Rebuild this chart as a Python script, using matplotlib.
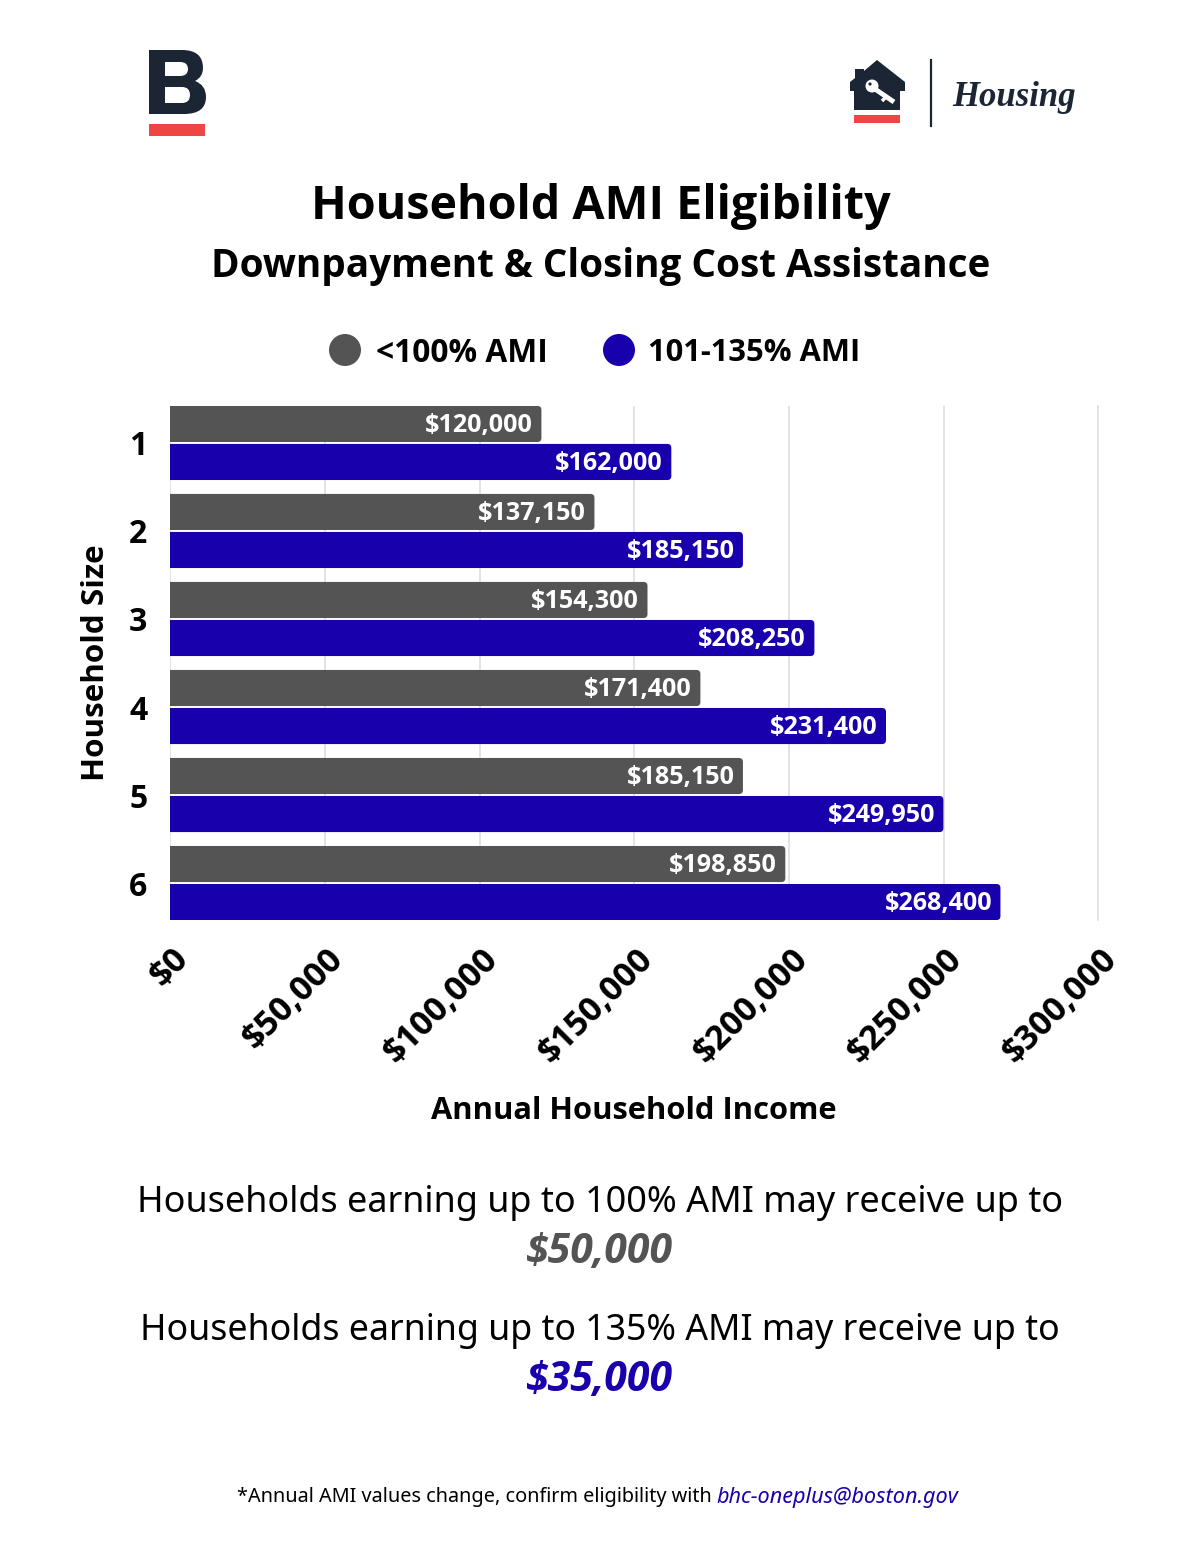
import matplotlib
matplotlib.use('Agg')
import matplotlib.pyplot as plt
from matplotlib.patches import FancyBboxPatch, Circle, Rectangle, PathPatch
from matplotlib.path import Path
from matplotlib.transforms import ScaledTranslation

plt.rcParams['font.family'] = ['Noto Sans', 'DejaVu Sans']
BOLD = ['Open Sans', 'DejaVu Sans']

sizes = ['1', '2', '3', '4', '5', '6']
ami_100 = [120000, 137150, 154300, 171400, 185150, 198850]
ami_135 = [162000, 185150, 208250, 231400, 249950, 268400]
x_ticks = [0, 50000, 100000, 150000, 200000, 250000, 300000]

GREY = '#545454'
BLUE = '#1800ad'
NAVY = '#1b2533'
RED = '#ed4643'

W, H = 1200, 1553
fig = plt.figure(figsize=(12, 15.53), dpi=100, facecolor='white')

# plot area, pixel box 170-1098 / 406-920
ax = fig.add_axes([170.2 / W, 1 - 920 / H, 928 / W, 514 / H])
ax.set_xlim(0, 300000)
ax.set_ylim(5.42, -0.42)
for s in ax.spines.values():
    s.set_visible(False)
ax.grid(axis='x', color='#dedede', lw=1.2, zorder=0)
ax.set_axisbelow(True)
ax.axvline(300000, color='#e4e4e4', lw=1.2, clip_on=False, zorder=0)


def draw_bar(value, y, color):
    # starts left of zero so only the right end shows rounded corners
    bar = FancyBboxPatch((-5000, y - 0.205), value + 5000, 0.41,
                         boxstyle='round,pad=0,rounding_size=1300',
                         mutation_aspect=(4 / 88) / 1300,
                         fc=color, ec='none', zorder=3)
    ax.add_patch(bar)
    ax.text(value - 2700, y + 0.015, '${:,}'.format(value), color='white', fontsize=18.1,
            family=BOLD, fontweight='bold', ha='right', va='center', zorder=4)


for i in range(len(sizes)):
    draw_bar(ami_100[i], i - 0.216, GREY)
    draw_bar(ami_135[i], i + 0.216, BLUE)

ax.set_yticks(range(len(sizes)))
ax.set_yticklabels(sizes, fontsize=23, family=BOLD, fontweight='bold', color='black')
ax.tick_params(axis='y', length=0, pad=16.5)
ax.set_xticks(x_ticks)
ax.set_xticklabels(['${:,}'.format(v) for v in x_ticks], fontsize=24.6, family=BOLD, fontweight='bold',
                   rotation=45, ha='right', va='center', rotation_mode='anchor', color='black')
ax.tick_params(axis='x', length=0)
offset = ScaledTranslation(13.5 / 100, -29 / 100, fig.dpi_scale_trans)
for lab in ax.get_xticklabels():
    lab.set_transform(lab.get_transform() + offset)

# everything else is placed in pixel coordinates of the page
ov = fig.add_axes([0, 0, 1, 1], zorder=5)
ov.set_xlim(0, W)
ov.set_ylim(H, 0)
ov.axis('off')
ov.patch.set_alpha(0)

ov.text(601, 206, 'Household AMI Eligibility', fontsize=33.6, family=BOLD, fontweight='bold', ha='center', va='center')
ov.text(601, 267, 'Downpayment & Closing Cost Assistance', fontsize=27.8, family=BOLD, fontweight='bold', ha='center', va='center')

ov.add_patch(Circle((345, 350), 16, fc=GREY, ec='none'))
ov.add_patch(Circle((619, 350), 16, fc=BLUE, ec='none'))
ov.text(376, 353, '<100% AMI', fontsize=22.9, family=BOLD, fontweight='bold', ha='left', va='center')
ov.text(648, 353, '101-135% AMI', fontsize=22.2, family=BOLD, fontweight='bold', ha='left', va='center')

ov.text(96, 663, 'Household Size', fontsize=22.6, family=BOLD, fontweight='bold', rotation=90, ha='center', va='center')
ov.text(634, 1111, 'Annual Household Income', fontsize=22.2, family=BOLD, fontweight='bold', ha='center', va='center')

ov.text(600, 1203, 'Households earning up to 100% AMI may receive up to', fontsize=25.9, ha='center', va='center')
ov.text(600, 1252, '$50,000', fontsize=29.5, family=BOLD, fontweight='bold', fontstyle='italic', color=GREY, ha='center', va='center')
ov.text(600, 1331, 'Households earning up to 135% AMI may receive up to', fontsize=25.7, ha='center', va='center')
ov.text(600, 1380, '$35,000', fontsize=29.5, family=BOLD, fontweight='bold', fontstyle='italic', color=BLUE, ha='center', va='center')

ov.text(237, 1497, '*Annual AMI values change, confirm eligibility with', fontsize=14.3, ha='left', va='center')
ov.text(716, 1497, 'bhc-oneplus@boston.gov', fontsize=15.6, fontstyle='italic', color=BLUE, ha='left', va='center')

# B logo
M, L, C, Z = Path.MOVETO, Path.LINETO, Path.CURVE3, Path.CLOSEPOLY
b_verts = [(149, 50), (182, 50), (203, 50), (203, 68), (203, 77), (195, 81), (206, 85), (206, 97),
           (206, 114), (184, 114), (149, 114), (149, 50),
           (165, 62), (165, 76), (180, 76), (188, 76), (188, 69), (188, 62), (180, 62), (165, 62),
           (165, 87), (165, 103), (182, 103), (190, 103), (190, 95), (190, 87), (182, 87), (165, 87)]
b_codes = [M, L, C, C, C, C, C, C, C, C, L, Z,
           M, L, L, C, C, C, C, Z,
           M, L, L, C, C, C, C, Z]
ov.add_patch(PathPatch(Path(b_verts, b_codes), fc=NAVY, ec='none'))
ov.add_patch(Rectangle((149, 124), 56, 12, fc=RED, ec='none'))

# Housing logo
house = [(877, 60), (905, 82), (905, 91), (900, 91), (900, 110), (854, 110), (854, 91), (850, 91),
         (850, 82), (855, 78), (855, 69), (864, 69), (864, 71)]
ov.fill([p[0] for p in house], [p[1] for p in house], color=NAVY, lw=0)
ov.add_patch(Rectangle((854, 115), 46, 8, fc=RED, ec='none'))
ov.plot([872, 894], [87, 102], color='white', lw=3.5, solid_capstyle='butt')
ov.plot([886, 882], [97, 101], color='white', lw=2.5, solid_capstyle='butt')
ov.add_patch(Circle((872, 86), 6.5, fc='white', ec='none'))
ov.add_patch(Circle((870, 84), 1.6, fc=NAVY, ec='none'))
ov.plot([931, 931], [60, 126], color=NAVY, lw=1.6)
ov.text(952, 97, 'Housing', fontsize=25, fontstyle='italic', fontweight='bold', color=NAVY,
        family=['Liberation Serif'], ha='left', va='center')

fig.savefig('out.png', dpi=100)
